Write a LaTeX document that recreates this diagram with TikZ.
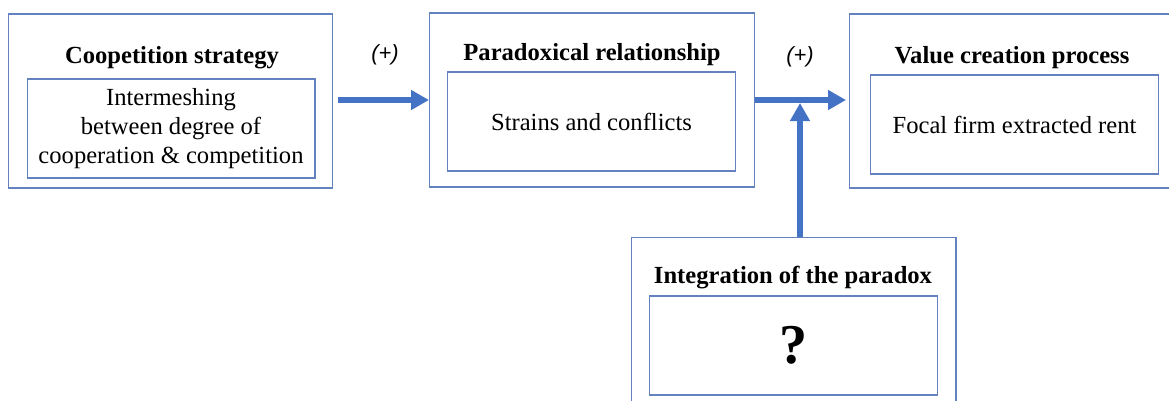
\documentclass[tikz,border=0pt]{standalone}
\usepackage{fontspec}
\setmainfont{Liberation Serif}
\newfontfamily\signfont{Liberation Sans}
\usetikzlibrary{arrows.meta, positioning}

\definecolor{boxline}{RGB}{100,130,192}
\definecolor{flow}{RGB}{68,114,196}

\begin{document}
\begin{tikzpicture}[x=0.02cm,y=-0.02cm,
  outerbox/.style={draw=boxline,line width=0.6pt,rectangle,minimum width=6.5cm,minimum height=3.48cm,inner sep=0pt},
  innerbox/.style={draw=boxline,line width=0.6pt,rectangle,minimum width=5.76cm,minimum height=1.98cm,inner sep=0pt,align=center,font=\fontsize{14}{16.5}\selectfont},
  title/.style={inner sep=0pt,font=\fontsize{14}{16}\selectfont\bfseries},
  sign/.style={inner sep=0pt,font=\fontsize{12.5}{14}\selectfont\signfont\itshape},
  flowarrow/.style={draw=flow,line width=3.2pt,-{Triangle[length=0.36cm,width=0.38cm]}}
]
\useasboundingbox (0,0) rectangle (1169,400);

% boxes
\node [outerbox] (outerA) at (170.5,101) {};
\node [innerbox] (innerA) at (171,128.5) {Intermeshing\\between degree of\\cooperation \& competition};
\node [title] (titleA) at (172,58) {Coopetition strategy};

\node [outerbox] (outerB) at (592,100) {};
\node [innerbox] (innerB) at (591.5,121.5) {Strains and conflicts};
\node [title] (titleB) at (592,55) {Paradoxical relationship};

\node [outerbox] (outerC) at (1011.5,101) {};
\node [innerbox] (innerC) at (1014.5,124.5) {Focal firm extracted rent};
\node [title] (titleC) at (1012,58) {Value creation process};

\node [outerbox,anchor=north] (outerD) at (793.5,237) {};
\node [innerbox] (innerD) at (793.5,345.5) {\fontsize{32}{36}\selectfont\bfseries ?};
\node [title] (titleD) at (793,278) {Integration of the paradox};

% signs
\node [sign] (signA) at (385,55) {(+)};
\node [sign] (signB) at (800,57) {(+)};

% arrows
\coordinate (startA) at (338,100);
\coordinate (startB) at (outerB.east |- startA);
\coordinate (join) at (800,103);
\draw [flowarrow] (startA) -- (outerB.west |- startA);
\draw [flowarrow] (startB) -- (846,100);
\draw [flowarrow] (outerD.north -| join) -- (join);

\end{tikzpicture}
\end{document}
